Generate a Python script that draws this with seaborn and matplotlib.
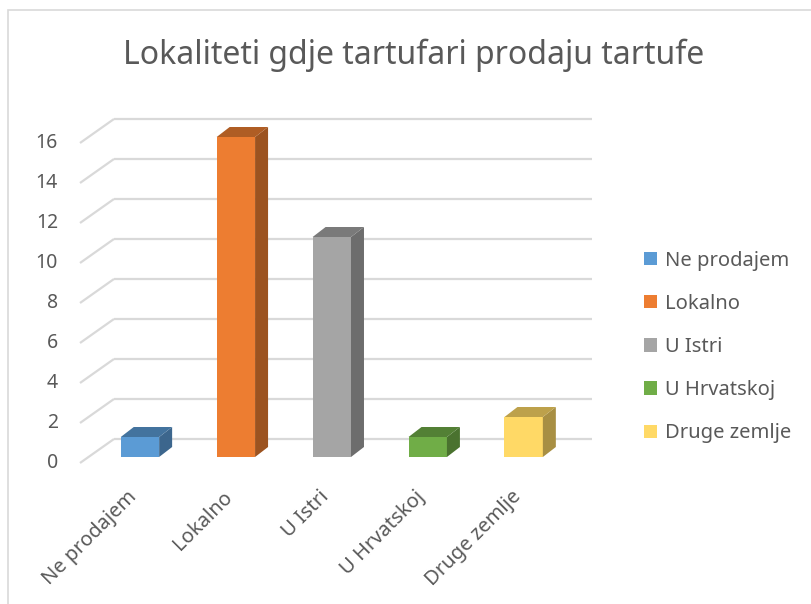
import numpy as np
import pandas as pd
import matplotlib.pyplot as plt
import matplotlib.colors as mcolors
from matplotlib.patches import Polygon, Patch, Rectangle
import seaborn as sns

categories = ["Ne prodajem", "Lokalno", "U Istri", "U Hrvatskoj", "Druge zemlje"]
values = [1, 16, 11, 1, 2]
colors = ["#5B9BD5", "#ED7D31", "#A5A5A5", "#70AD47", "#FFD966"]
yticks = [0, 2, 4, 6, 8, 10, 12, 14, 16]
title = "Lokaliteti gdje tartufari prodaju tartufe"

df = pd.DataFrame({"mjesto": categories, "broj": values})

sns.set_style("white")
plt.rcParams["font.family"] = ["Noto Sans", "DejaVu Sans"]
text_col = "#595959"
grid_col = "#D9D9D9"

fig = plt.figure(figsize=(8.11, 6.04), dpi=100)
W, H = 811, 604
# axes placed so that the category spacing is ~96 px and one unit ~20 px
ax = fig.add_axes([80 / W, (604 - 457) / H, 530 / W, 350 / H])

sns.barplot(data=df, x="mjesto", y="broj", hue="mjesto", palette=colors,
            width=0.4, legend=False, saturation=1, ax=ax, zorder=3)

ax.set_xlim(-0.625, 4.9)
ax.set_ylim(0, 17.5)

# fake 3d: depth of bars and of the back wall (data units)
bdx, bdy = 13 / 96, 10 / 20
gx0, gy0 = -0.625, -0.3
gx1, gy1 = -0.625 + 34 / 96, 0.9
gxr = (592 - 140) / 96

for v in yticks:
    ax.plot([gx0, gx1], [v + gy0, v + gy1], color=grid_col, lw=1.6,
            zorder=1, clip_on=False, solid_capstyle="butt")
    ax.plot([gx1, gxr], [v + gy1, v + gy1], color=grid_col, lw=1.6,
            zorder=1, clip_on=False, solid_capstyle="butt")

for bar, c in zip(list(ax.patches), colors):
    x0 = bar.get_x()
    x1 = x0 + bar.get_width()
    h = bar.get_height()
    rgb = np.array(mcolors.to_rgb(c))
    bar.set_edgecolor("none")
    side = Polygon([(x1, 0), (x1 + bdx, bdy), (x1 + bdx, h + bdy), (x1, h)],
                   closed=True, facecolor=rgb * 0.66, edgecolor="none", zorder=3)
    top = Polygon([(x0, h), (x0 + bdx, h + bdy), (x1 + bdx, h + bdy), (x1, h)],
                  closed=True, facecolor=rgb * 0.74, edgecolor="none", zorder=3)
    ax.add_patch(side)
    ax.add_patch(top)

for s in ax.spines.values():
    s.set_visible(False)
ax.set_xticks([])
ax.set_yticks([])
ax.set_xlabel("")
ax.set_ylabel("")

ytrans = ax.get_yaxis_transform()
for v in yticks:
    ax.annotate(str(v), xy=(0, v + gy0), xycoords=ytrans, xytext=(-22, 0),
                textcoords="offset pixels", ha="right", va="center",
                fontsize=14, color=text_col, annotation_clip=False)

for i, name in enumerate(categories):
    ax.annotate(name, xy=(i, 0), xycoords="data", xytext=(-13, -30),
                textcoords="offset pixels", ha="right", va="top",
                rotation=45, rotation_mode="anchor",
                fontsize=14.5, color=text_col, annotation_clip=False)

fig.text(414 / W, 1 - 55 / H, title, ha="center", va="center",
         fontsize=23, color=text_col)

handles = [Patch(facecolor=c, edgecolor="none") for c in colors]
fig.legend(handles, categories, loc="center left",
           bbox_to_anchor=(626 / W, 1 - 347 / H), frameon=False,
           fontsize=14.5, labelcolor=text_col, handlelength=0.65,
           handleheight=0.65, handletextpad=0.4, labelspacing=1.15)

fig.patches.append(Rectangle((8 / W, -0.1), 1.2, 1 - 10 / H + 0.1,
                             transform=fig.transFigure, fill=False,
                             edgecolor="#D9D9D9", lw=1.2))

fig.savefig("out.png", dpi=100)
